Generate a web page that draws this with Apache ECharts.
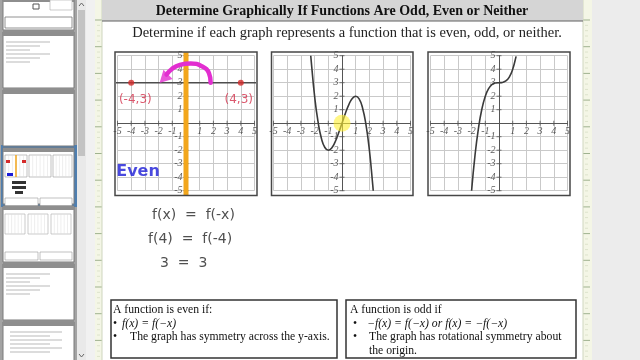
<!DOCTYPE html>
<html><head><meta charset="utf-8">
<script src="https://cdn.jsdelivr.net/npm/echarts@6.0.0/dist/echarts.min.js"></script>
<style>html,body{margin:0;padding:0;background:#fff;overflow:hidden}#c{width:640px;height:360px}</style>
</head><body><div id="c"></div>
<script>
// ---------- data ----------
const tickValues = [-5, -4, -3, -2, -1, 0, 1, 2, 3, 4, 5];
// graph 1 : horizontal line y = 3 with two labelled points
const g1Horizontal = [[-5.15, 3], [5.15, 3]];
const g1Points = [[-4, 3], [4, 3]];
const g1PointLabels = ['(-4,3)', '(4,3)'];
const g1LabelPos = [[-3.7, 1.75], [3.85, 1.75]];
const g1Orange = [[0, -5.35], [0, 5.25]];
const g1Arc = [[1.8, 3], [1.68, 3.7], [1.15, 4.22], [0.35, 4.42], [-0.45, 4.32], [-1.05, 4.0], [-1.42, 3.6]];
const g1ArrowHead = [[-1.62, 3.3]];
const g1Note = [[-3.5, -3.6]];
const g1NoteText = 'Even';
// graph 2 : cubic with local max (1,2) and local min (-1,-2)
const g2Curve = [[-2.28, 5], [-2.25, 4.64], [-2, 2], [-1.75, 0.11], [-1.5, -1.13], [-1.25, -1.8], [-1, -2],
  [-0.75, -1.83], [-0.5, -1.38], [-0.25, -0.73], [0, 0], [0.25, 0.73], [0.5, 1.38], [0.75, 1.83], [1, 2],
  [1.25, 1.8], [1.5, 1.13], [1.75, -0.11], [2, -2], [2.25, -4.64], [2.28, -5]];
const g2Highlight = [[0, 0]];
// graph 3 : cubic shifted up, flat near (0,3)
const g3Curve = [[-2, -5], [-1.75, -2.36], [-1.5, -0.38], [-1.25, 1.05], [-1, 2], [-0.75, 2.58], [-0.5, 2.88],
  [-0.25, 2.98], [0, 3], [0.25, 3.02], [0.5, 3.13], [0.75, 3.42], [1, 4], [1.25, 4.95], [1.26, 5]];
// texts
const titleText = 'Determine Graphically If Functions Are Odd, Even or Neither';
const subtitleText = 'Determine if each graph represents a function that is even, odd, or neither.';
const equations = ['f(x)  =  f(-x)', 'f(4)  =  f(-4)', '3  =  3'];
const evenBox = ['A function is even if:', 'f(x) = f(\u2212x)', 'The graph has symmetry across the y-axis.'];
const oddBox = ['A function is odd if', '\u2212f(x) = f(\u2212x) or f(x) = \u2212f(\u2212x)', 'The graph has rotational symmetry about', 'the origin.'];

// ---------- layout ----------
const grids = [
  { left: 117.5, top: 55.7, width: 137, height: 135 },
  { left: 273.5, top: 55.7, width: 137, height: 135 },
  { left: 430.5, top: 55.7, width: 137, height: 135 }
];
const frames = [[115, 52, 142, 143.5], [271.5, 52, 141.5, 143.5], [428, 52, 142, 143.5]];

const serif = '"Liberation Serif", "DejaVu Serif", serif';
function axisBase(i) {
  return {
    gridIndex: i, type: 'value', min: tickValues[0], max: tickValues[tickValues.length - 1], interval: 1, z: 3,
    axisLine: { onZero: true, lineStyle: { color: '#555', width: 1 } },
    axisTick: { show: false },
    axisLabel: { show: false },
    splitLine: { show: true, lineStyle: { color: '#c9c9c9', width: 1 } }
  };
}
const xAxis = grids.map((g, i) => axisBase(i));
const yAxis = grids.map((g, i) => axisBase(i));

const nonZero = tickValues.filter(v => v !== 0);
const tickLabelFont = { fontFamily: serif, fontStyle: 'italic', fontSize: 10, color: '#333' };
const series = [];
grids.forEach((g, i) => {
  series.push({ type: 'scatter', xAxisIndex: i, yAxisIndex: i, data: nonZero.map(v => [v, 0]), symbol: 'rect',
    symbolSize: [1, 5], z: 4, itemStyle: { color: '#555' }, silent: true,
    label: Object.assign({ show: true, position: 'bottom', distance: 1, formatter: p => String(p.value[0]) }, tickLabelFont) });
  series.push({ type: 'scatter', xAxisIndex: i, yAxisIndex: i, data: nonZero.map(v => [0, v]), symbol: 'rect',
    symbolSize: [5, 1], z: 4, itemStyle: { color: '#555' }, silent: true,
    label: Object.assign({ show: true, position: 'left', distance: 1, formatter: p => String(p.value[1]) }, tickLabelFont) });
});
series.push(
  { type: 'line', xAxisIndex: 0, yAxisIndex: 0, data: g1Horizontal, symbol: 'none', clip: false, z: 5,
    lineStyle: { color: '#4d4d4d', width: 1.6 } },
  { type: 'line', xAxisIndex: 0, yAxisIndex: 0, data: g1Orange, symbol: 'none', clip: false, z: 6,
    lineStyle: { color: '#f2a61c', width: 5 } },
  { type: 'scatter', xAxisIndex: 0, yAxisIndex: 0, data: g1Points, symbolSize: 6, z: 6,
    itemStyle: { color: '#d52b2b' } },
  { type: 'scatter', xAxisIndex: 0, yAxisIndex: 0, symbolSize: 0, z: 6,
    data: g1LabelPos.map((p, k) => ({ value: p, name: g1PointLabels[k] })),
    label: { show: true, position: 'inside', formatter: p => p.name, color: '#d3304a', fontSize: 12,
      fontFamily: '"DejaVu Sans", sans-serif' } },
  { type: 'line', xAxisIndex: 0, yAxisIndex: 0, data: g1Arc, smooth: true, symbol: 'none', clip: false, z: 7,
    lineStyle: { color: '#e22ed0', width: 4.5, cap: 'round' } },
  { type: 'scatter', xAxisIndex: 0, yAxisIndex: 0, data: g1ArrowHead, symbol: 'triangle', symbolSize: [13, 12],
    symbolRotate: 135, z: 7, itemStyle: { color: '#e22ed0' } },
  { type: 'scatter', xAxisIndex: 0, yAxisIndex: 0, data: g1Note, symbolSize: 0, z: 7,
    label: { show: true, position: 'inside', formatter: g1NoteText, color: '#1b1bd6', fontSize: 16, fontWeight: 'bold',
      fontFamily: '"DejaVu Sans", sans-serif' } },
  { type: 'line', xAxisIndex: 1, yAxisIndex: 1, data: g2Curve, smooth: true, symbol: 'none', z: 6,
    lineStyle: { color: '#3a3a3a', width: 1.6 } },
  { type: 'scatter', xAxisIndex: 1, yAxisIndex: 1, data: g2Highlight, symbolSize: 17, z: 7,
    itemStyle: { color: 'rgba(255,240,50,0.75)' } },
  { type: 'line', xAxisIndex: 2, yAxisIndex: 2, data: g3Curve, smooth: true, symbol: 'none', z: 6,
    lineStyle: { color: '#3a3a3a', width: 1.6 } }
);

// ---------- page decoration ----------
const gfx = [];
function rect(x, y, w, h, fill, stroke, lw, z) {
  gfx.push({ type: 'rect', shape: { x, y, width: w, height: h }, z: z || 0,
    style: { fill: fill || 'none', stroke: stroke || null, lineWidth: lw || 0 } });
}
function line(x1, y1, x2, y2, stroke, lw, z) {
  gfx.push({ type: 'line', shape: { x1, y1, x2, y2 }, z: z || 0, style: { stroke, lineWidth: lw || 1 } });
}
function text(str, x, y, font, fill, align, z) {
  gfx.push({ type: 'text', x, y, z: z || 30,
    style: { text: str, font, fill: fill || '#111', textAlign: align || 'left', textVerticalAlign: 'middle' } });
}
// backgrounds
rect(0, 0, 77, 360, '#a3a3a3');
rect(77, 0, 9, 360, '#e9e9e9');
rect(78, 10, 7, 146, '#c3c3c3');
rect(86, 0, 9, 360, '#f1f1f1');
rect(95, 0, 7, 360, '#f4f6e6');
rect(583, 0, 9, 360, '#f4f6e6');
rect(592, 0, 48, 360, '#ececec');
for (let y = 20; y < 360; y += 26.7) {
  line(95, y, 102, y, '#9fb28f', 1); line(583, y, 590, y, '#9fb28f', 1);
  for (let k = 1; k < 5; k++) { line(97, y + k * 5.34, 100, y + k * 5.34, '#dde3cc', 1); line(585, y + k * 5.34, 588, y + k * 5.34, '#dde3cc', 1); }
}
line(102, 0, 102, 360, '#cfd6bf', 1);
line(583, 0, 583, 360, '#cfd6bf', 1);
// scroll arrows
gfx.push({ type: 'polyline', shape: { points: [[79, 6], [81.5, 3], [84, 6]] }, style: { stroke: '#666', lineWidth: 1, fill: 'none' } });
gfx.push({ type: 'polyline', shape: { points: [[79, 354], [81.5, 357], [84, 354]] }, style: { stroke: '#666', lineWidth: 1, fill: 'none' } });
// thumbnails
const thumbs = [[-2, 30], [32, 88], [90, 146], [148, 204], [206, 262], [264, 320], [322, 378]];
rect(1, 145, 76, 62, '#4f7fb0');
thumbs.forEach((t, k) => {
  rect(3, t[0], 71, t[1] - t[0], '#ffffff', '#7a7a7a', 1);
  rect(3, t[0], 71, 4, '#8e8e8e');
  const y0 = t[0] + 6;
  if (k === 1 || k === 5) {
    for (let j = 0; j < 6; j++) line(6, y0 + 4 + j * 4, 50 - (j % 3) * 10, y0 + 4 + j * 4, '#b9b9b9', 1);
  } else if (k === 3) {
    rect(5, y0 + 1, 22, 22, '#fff', '#999', 0.6); rect(29, y0 + 1, 22, 22, '#fff', '#999', 0.6); rect(53, y0 + 1, 19, 22, '#fff', '#999', 0.6);
    for (let j = 1; j < 6; j++) { line(5 + j * 3.7, y0 + 1, 5 + j * 3.7, y0 + 23, '#ddd', 0.5); line(29 + j * 3.7, y0 + 1, 29 + j * 3.7, y0 + 23, '#ddd', 0.5); line(53 + j * 3.2, y0 + 1, 53 + j * 3.2, y0 + 23, '#ddd', 0.5); }
    line(16, y0 + 1, 16, y0 + 23, '#f2a61c', 1.5);
    rect(6, y0 + 6, 4, 3, '#d52b2b'); rect(22, y0 + 6, 4, 3, '#d52b2b');
    rect(7, y0 + 19, 6, 3, '#1b1bd6');
    rect(12, y0 + 27, 14, 3, '#333'); rect(12, y0 + 32, 14, 3, '#333'); rect(15, y0 + 37, 8, 3, '#333');
    rect(5, y0 + 44, 33, 8, '#fff', '#999', 0.6); rect(40, y0 + 44, 32, 8, '#fff', '#999', 0.6);
  } else if (k === 4) {
    for (let g = 0; g < 3; g++) { rect(5 + g * 23, y0 + 2, 20, 20, '#fff', '#aaa', 0.6);
      for (let j = 1; j < 6; j++) line(5 + g * 23 + j * 3.3, y0 + 2, 5 + g * 23 + j * 3.3, y0 + 22, '#ddd', 0.5); }
    rect(5, y0 + 40, 33, 8, '#fff', '#999', 0.6); rect(40, y0 + 40, 32, 8, '#fff', '#999', 0.6);
  } else if (k === 6) {
    for (let j = 0; j < 6; j++) line(10, y0 + 4 + j * 4, 62 - (j % 2) * 12, y0 + 4 + j * 4, '#b9b9b9', 1);
  } else if (k === 0) {
    rect(33, 4, 6, 5, '#fff', '#555', 1); rect(50, 0, 22, 10, '#fff', '#aaa', 0.6);
    rect(5, 17, 67, 11, '#fff', '#777', 0.8);
  }
});
// title bar
rect(102, 0, 481, 21, '#d5d5d5', null, 0, 1);
line(102, 21, 583, 21, '#606060', 1, 2);
text(titleText, 342, 11, 'bold 14px ' + serif, '#111', 'center');
text(subtitleText, 347, 33, '14.5px ' + serif, '#222', 'center');
// graph frames
frames.forEach(f => gfx.push({ type: 'rect', shape: { x: f[0], y: f[1], width: f[2], height: f[3] }, z: 40,
  style: { fill: 'none', stroke: '#474747', lineWidth: 1.5 } }));
// handwritten work
const hand = '14px "DejaVu Sans", sans-serif';
text(equations[0], 152, 215, hand, '#505050', 'left');
text(equations[1], 148, 239, hand, '#505050', 'left');
text(equations[2], 160, 263, hand, '#505050', 'left');
// definition boxes
gfx.push({ type: 'rect', shape: { x: 111, y: 300, width: 226, height: 58 }, z: 30, style: { fill: '#fff', stroke: '#333', lineWidth: 1.5 } });
gfx.push({ type: 'rect', shape: { x: 346, y: 300, width: 230, height: 58 }, z: 30, style: { fill: '#fff', stroke: '#333', lineWidth: 1.5 } });
const bf = '11.7px ' + serif, bfi = 'italic 11.7px ' + serif;
text(evenBox[0], 113, 310, bf, '#111', 'left', 31);
text('\u2022', 113, 324, bf, '#111', 'left', 31);
text(evenBox[1], 122, 324, bfi, '#111', 'left', 31);
text('\u2022', 113, 337, bf, '#111', 'left', 31);
text(evenBox[2], 130, 337, bf, '#111', 'left', 31);
text(oddBox[0], 350, 310, bf, '#111', 'left', 31);
text('\u2022', 353, 324, bf, '#111', 'left', 31);
text(oddBox[1], 367, 324, bfi, '#111', 'left', 31);
text('\u2022', 353, 337, bf, '#111', 'left', 31);
text(oddBox[2], 369, 337, bf, '#111', 'left', 31);
text(oddBox[3], 369, 351, bf, '#111', 'left', 31);

const chart = echarts.init(document.getElementById('c'), null, { renderer: 'canvas', width: 640, height: 360 });
chart.setOption({
  animation: false,
  backgroundColor: '#ffffff',
  grid: grids,
  xAxis, yAxis, series,
  graphic: { elements: gfx }
});
</script></body></html>
